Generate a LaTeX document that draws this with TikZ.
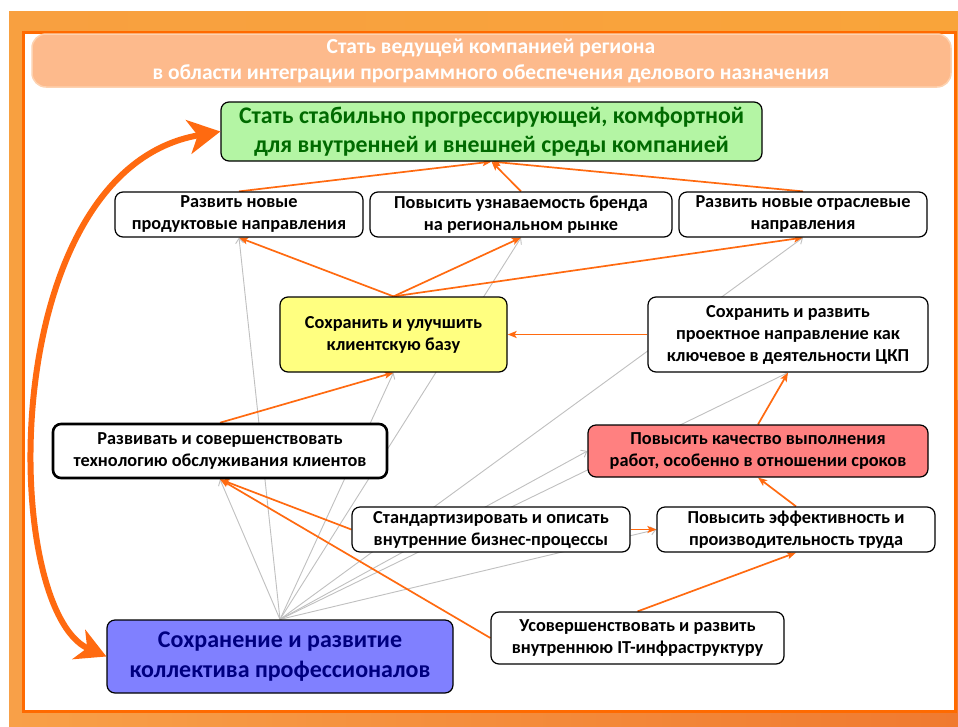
\documentclass[tikz,border=0pt]{standalone}
\usepackage{fontspec}
\setmainfont{Carlito}
\usetikzlibrary{arrows.meta,calc,backgrounds}
\definecolor{lineor}{HTML}{FF6A10}
\definecolor{frameor}{HTML}{FF6A00}
\definecolor{outerL}{HTML}{F8A040}
\definecolor{outerM}{HTML}{FBC470}
\definecolor{outerR}{HTML}{F9A43A}
\definecolor{botL}{HTML}{F8A048}
\definecolor{botR}{HTML}{F07A30}
\definecolor{pill}{HTML}{FDBA8C}
\definecolor{pilledge}{HTML}{FDD2B0}
\definecolor{greyln}{HTML}{C0C0C0}
\definecolor{gfill}{HTML}{B4F5A4}
\definecolor{gtext}{HTML}{006A00}
\definecolor{yfill}{HTML}{FFFF80}
\definecolor{rfill}{HTML}{FF8080}
\definecolor{bfill}{HTML}{8080FF}
\definecolor{btext}{HTML}{000080}
\pgfdeclarelayer{bg}
\pgfdeclarelayer{edges}
\pgfsetlayers{bg,edges,main}
\tikzset{
  goal/.style={draw=black, line width=1.2pt, rounded corners=8pt, fill=white,
    align=center, inner sep=0pt, font=\bfseries\fontsize{18.3}{22}\selectfont},
  orarrow/.style={draw=lineor, line width=1.7pt, -{Stealth[length=9pt,width=7pt,inset=2pt]}},
  grarrow/.style={draw=greyln, line width=0.9pt, -{Straight Barb[length=5pt,width=8pt]}},
  bigarrow/.style={draw=lineor, line width=6pt, {Stealth[length=30pt,width=32pt,inset=9pt]}-{Stealth[length=32pt,width=34pt,inset=9pt]}}
}
\begin{document}
\begin{tikzpicture}[x=1pt,y=-1pt]
\useasboundingbox (0,0) rectangle (958,726);
% nodes
\node[goal, fill=gfill, minimum width=541pt, minimum height=59pt,
  font=\bfseries\fontsize{23.8}{29}\selectfont, text=gtext] (top) at (491.5,131.5)
  {Стать стабильно прогрессирующей, комфортной\\для внутренней и внешней среды компанией};
\node[goal, minimum width=248pt, minimum height=45pt] (A) at (239,214.5)
  {Развить новые\\продуктовые направления};
\node[goal, minimum width=302pt, minimum height=45pt] (B) at (521,214.5)
  {Повысить узнаваемость бренда\\на региональном рынке};
\node[goal, minimum width=248pt, minimum height=45pt] (C) at (803,214.5)
  {Развить новые отраслевые\\направления};
\node[goal, fill=yfill, minimum width=227pt, minimum height=75pt] (D) at (393.5,334.5)
  {Сохранить и улучшить\\клиентскую базу};
\node[goal, minimum width=280pt, minimum height=75pt] (E) at (788,334.5)
  {Сохранить и развить\\проектное направление как\\ключевое в деятельности ЦКП};
\node[goal, line width=2.6pt, minimum width=334pt, minimum height=54pt] (F) at (220,451)
  {Развивать и совершенствовать\\технологию обслуживания клиентов};
\node[goal, fill=rfill, minimum width=340pt, minimum height=52pt] (G) at (758,451)
  {Повысить качество выполнения\\работ, особенно в отношении сроков};
\node[goal, minimum width=278pt, minimum height=45pt] (H) at (491,529.5)
  {Стандартизировать и описать\\внутренние бизнес-процессы};
\node[goal, minimum width=278pt, minimum height=45pt] (I) at (796,529.5)
  {Повысить эффективность и\\производительность труда};
\node[goal, minimum width=293pt, minimum height=52pt] (J) at (637.5,638)
  {Усовершенствовать и развить\\внутреннюю IT-инфраструктуру};
\node[goal, fill=bfill, minimum width=346pt, minimum height=73pt,
  font=\bfseries\fontsize{24}{30}\selectfont, text=btext] (K) at (280,656.5)
  {Сохранение и развитие\\коллектива профессионалов};
% header
\node[text=white, align=center, font=\bfseries\fontsize{21.5}{26}\selectfont] (head) at (491,61)
  {Стать ведущей компанией региона\\в области интеграции программного обеспечения делового назначения};
% background frame
\begin{pgfonlayer}{bg}
  \fill[white] (0,0) rectangle (958,726);
  \shade[left color=outerL, middle color=outerM, right color=outerR] (9,11) rectangle (958,400);
  \shade[left color=botL, right color=botR] (9,400) rectangle (958,726);
  \fill[white, draw=frameor, line width=3pt] (23,32) rectangle (955,711);
  \fill[pill, draw=pilledge, line width=1.5pt, rounded corners=14pt] (32,34) rectangle (951,87);
\end{pgfonlayer}
% edges
\begin{pgfonlayer}{edges}
  \foreach \t/\a in {F/south, A/south, D/south, B/south, C/south, E/south, G/west, I/west}
    \draw[grarrow] (K.north) -- (\t.\a);
  \draw[orarrow] (A.north) -- (top.south);
  \draw[orarrow] (B.north) -- (top.south);
  \draw[orarrow] (C.north) -- (top.south);
  \draw[orarrow] (D.north) -- (A.south);
  \draw[orarrow] (D.north) -- (B.south);
  \draw[orarrow] (D.north) -- (C.south);
  \draw[orarrow] (E.west) -- (D.east);
  \draw[orarrow] (F.north) -- (D.south);
  \draw[orarrow] (G.north) -- (E.south);
  \draw[orarrow] (I.north) -- (G.south);
  \draw[orarrow] (H.east) -- (I.west);
  \draw[orarrow] (H.west) -- (F.south);
  \draw[orarrow] (J.west) -- (F.south);
  \draw[orarrow] (J.north) -- (I.south);
\end{pgfonlayer}
\draw[bigarrow] (K.west) .. controls (0,610) and (-5,170) .. (top.west);
\end{tikzpicture}
\end{document}
